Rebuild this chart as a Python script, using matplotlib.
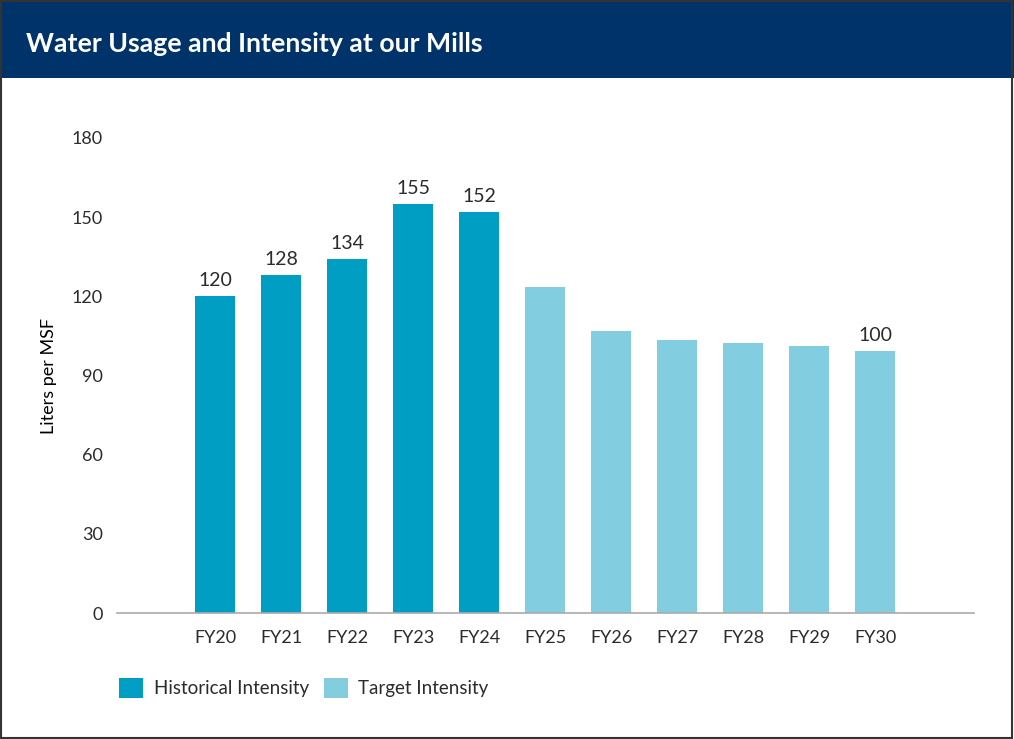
import matplotlib
matplotlib.use("Agg")
import matplotlib.pyplot as plt
from matplotlib.patches import Rectangle, Patch

plt.rcParams['font.family'] = ['Lato', 'DejaVu Sans']

categories = ["FY20", "FY21", "FY22", "FY23", "FY24", "FY25", "FY26", "FY27", "FY28", "FY29", "FY30"]
values = [120, 128, 134, 155, 152, 123.5, 107, 103.5, 102.3, 101.2, 99.4]
kinds = ["Historical"] * 5 + ["Target"] * 6
labels = ["120", "128", "134", "155", "152", "", "", "", "", "", "100"]
yticks = [0, 30, 60, 90, 120, 150, 180]

HIST = "#009EC2"
TARG = "#82CEE0"
NAVY = "#00336A"
TXT = "#2b2b2b"

W, H = 1014, 739
fig = plt.figure(figsize=(W / 100, H / 100), dpi=100)
fig.patch.set_facecolor("white")

# header band
fig.patches.append(Rectangle((0, 1 - 78 / H), 1, 78 / H, transform=fig.transFigure,
                             facecolor=NAVY, edgecolor="none", zorder=0))
fig.text(26 / W, 1 - 44 / H, "Water Usage and Intensity at our Mills", color="white",
         fontsize=19.2, fontweight="bold", va="center", ha="left")
# border
fig.patches.append(Rectangle((0.5 / W, 1.5 / H), 1 - 2.5 / W, 1 - 2 / H, transform=fig.transFigure,
                             facecolor="none", edgecolor="#333333", linewidth=1.5, zorder=5))

ax = fig.add_axes([117 / W, 1 - 613 / H, (974 - 117) / W, (613 - 138) / H])
x = list(range(len(categories)))
colors = [HIST if k == "Historical" else TARG for k in kinds]
bars = ax.bar(x, values, width=0.606, color=colors, zorder=2)
for xi, v, lab in zip(x, values, labels):
    if lab:
        ax.annotate(lab, (xi, v), xytext=(0, 5), textcoords="offset points",
                    ha="center", va="bottom", fontsize=14, color=TXT)

ax.set_xlim(-1.485, 11.5)
ax.set_ylim(0, 180)
ax.set_yticks(yticks)
ax.set_yticklabels([str(t) for t in yticks])
ax.set_xticks(x)
ax.set_xticklabels(categories)
for s in ["top", "right", "left"]:
    ax.spines[s].set_visible(False)
ax.spines["bottom"].set_color("#aaaaaa")
ax.spines["bottom"].set_linewidth(1.2)
ax.tick_params(axis="both", length=0, labelsize=13, labelcolor=TXT)
ax.tick_params(axis="y", pad=10)
ax.tick_params(axis="x", pad=12)
ax.set_ylabel("Liters per MSF", fontsize=13, color="black", labelpad=11)

handles = [Patch(facecolor=HIST, edgecolor="none", label="Historical Intensity"),
           Patch(facecolor=TARG, edgecolor="none", label="Target Intensity")]
fig.legend(handles=handles, loc="center left", bbox_to_anchor=(119 / W, 1 - 688 / H),
           ncol=2, frameon=False, fontsize=13.5, handlelength=1.3, handleheight=1.3,
           handletextpad=0.55, columnspacing=0.8, borderpad=0, borderaxespad=0,
           labelcolor=TXT)

fig.savefig("out.png", dpi=100)
